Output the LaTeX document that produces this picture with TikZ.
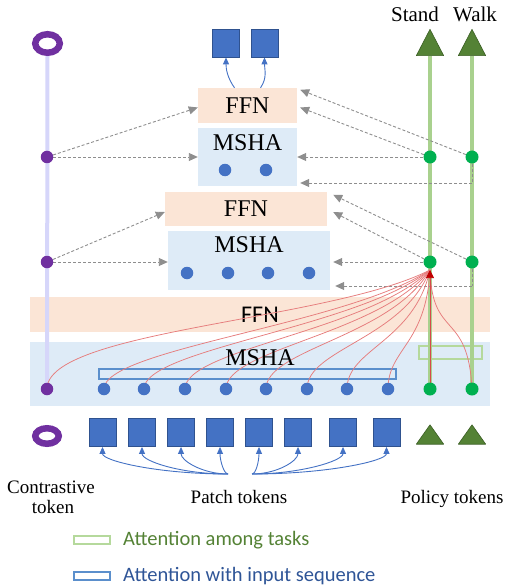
\documentclass[tikz,border=0pt]{standalone}
\usepackage{fontspec}
\setmainfont{Liberation Serif}
\newfontfamily\legendfont{Carlito}
\usetikzlibrary{arrows.meta,calc,shapes.geometric}

\pgfdeclarelayer{bg}
\pgfdeclarelayer{wires}
\pgfsetlayers{bg,wires,main}

\definecolor{ffnfill}{HTML}{FBE5D6}
\definecolor{mshafill}{HTML}{DEEBF7}
\definecolor{tokblue}{HTML}{4472C4}
\definecolor{tokedge}{HTML}{2F528F}
\definecolor{ctrpurple}{HTML}{7030A0}
\definecolor{ctrline}{HTML}{D6D6FA}
\definecolor{polgreen}{HTML}{00B050}
\definecolor{trigreen}{HTML}{548235}
\definecolor{triedge}{HTML}{3B5E24}
\definecolor{taskline}{HTML}{A9D18E}
\definecolor{taskbox}{HTML}{B5D99C}
\definecolor{seqbox}{HTML}{5B8FCC}
\definecolor{attnred}{HTML}{E67C7C}
\definecolor{tipred}{HTML}{C00000}
\definecolor{skipgray}{HTML}{8E8E8E}
\definecolor{legblue}{HTML}{2F5597}

\begin{document}
\begin{tikzpicture}[x=1pt,y=-1pt,
  ffnbox/.style={fill=ffnfill, inner sep=0pt, font=\fontsize{24}{24}\selectfont},
  mshabox/.style={fill=mshafill, inner sep=0pt},
  layertxt/.style={inner sep=0pt, font=\fontsize{24}{24}\selectfont},
  tokdot/.style={circle, fill=tokblue, inner sep=0pt, minimum size=12.5pt},
  ctrdot/.style={circle, fill=ctrpurple, inner sep=0pt, minimum size=12.5pt},
  poldot/.style={circle, fill=polgreen, inner sep=0pt, minimum size=13pt},
  patchsq/.style={rectangle, fill=tokblue, draw=tokedge, line width=0.8pt, inner sep=0pt, minimum width=27pt, minimum height=28pt},
  ctrring/.style={ellipse, draw=ctrpurple, line width=6.5pt, inner sep=0pt},
  trislot/.style={inner sep=0pt, minimum width=27pt, minimum height=#1},
  tri/.style={fill=trigreen, draw=triedge, line width=0.6pt, line join=round},
  ctrlink/.style={draw=ctrline, line width=4pt},
  tasklink/.style={draw=taskline, line width=4.5pt},
  skiparr/.style={draw=skipgray, line width=0.9pt, dash pattern=on 3pt off 2pt, -{Triangle[length=9pt,width=8pt]}},
  skipline/.style={draw=skipgray, line width=0.9pt, dash pattern=on 3pt off 2pt},
  attn/.style={draw=attnred, line width=0.75pt},
  embed/.style={draw=tokblue, line width=0.9pt, -{Triangle[length=7pt,width=6pt]}},
  tokcap/.style={inner sep=0pt, font=\fontsize{19}{20}\selectfont},
  outline/.style={line width=2.2pt, inner sep=0pt, fill=none},
  legtxt/.style={anchor=west, inner sep=0pt, font=\legendfont\fontsize{20.5}{20.5}\selectfont},
]
\useasboundingbox (0,0) rectangle (506,588);

% ---------- layer blocks ----------
\begin{pgfonlayer}{bg}
  \node[ffnbox, minimum width=99pt, minimum height=35pt] (ffnA) at (247.5,105.5) {FFN};
  \node[mshabox, minimum width=99pt, minimum height=58pt] (mshaA) at (247.5,157) {};
  \node[ffnbox, minimum width=162pt, minimum height=34pt] (ffnB) at (246,209) {FFN};
  \node[mshabox, minimum width=162pt, minimum height=59pt] (mshaB) at (249,260.5) {};
  \node[ffnbox, minimum width=460pt, minimum height=35pt, font=\legendfont\fontsize{24}{24}\selectfont] (ffnC) at (260,314.5) {FFN};
  \node[mshabox, minimum width=460pt, minimum height=64pt] (mshaC) at (260,374) {};
  \node[outline, draw=seqbox, minimum width=297pt, minimum height=10pt] (seqAttn) at (247.5,374) {};
  \node[outline, draw=taskbox, minimum width=63pt, minimum height=13pt] (taskAttn) at (450.5,352.5) {};
\end{pgfonlayer}

\node[layertxt] (mshaAtxt) at (247.5,143) {MSHA};
\node[layertxt] (mshaBtxt) at (249,245) {MSHA};
\node[layertxt] (mshaCtxt) at (260,358) {MSHA};

% ---------- tokens inside the layers ----------
\node[ctrdot] (c0) at (47,389) {};
\node[ctrdot] (c1) at (47,157) {};
\node[ctrdot] (c2) at (47,262) {};
\foreach \i/\x in {1/104,2/144,3/185,4/226,5/266,6/307,7/347,8/388}
  \node[tokdot] (t\i) at (\x,389) {};
\node[poldot] (s0) at (430,389) {};
\node[poldot] (w0) at (472,389) {};
\node[poldot] (s1) at (430,157) {};
\node[poldot] (w1) at (472,157) {};
\node[poldot] (s2) at (430,262) {};
\node[poldot] (w2) at (472,262) {};
\node[tokdot] (a1) at (225,170) {};
\node[tokdot] (a2) at (266,170) {};
\foreach \i/\x in {1/187,2/228,3/268,4/309}
  \node[tokdot] (b\i) at (\x,273) {};

% ---------- input and output tokens ----------
\node[ctrring, minimum width=24.5pt, minimum height=18.5pt] (ringTop) at (47.5,43.5) {};
\node[ctrring, minimum width=23.5pt, minimum height=15.5pt] (ringBot) at (47,436) {};
\foreach \i/\x in {1/102.5,2/142,3/181,4/220,5/259,6/298,7/343,8/386.5}
  \node[patchsq] (p\i) at (\x,432.5) {};
\node[patchsq] (o1) at (226,43) {};
\node[patchsq] (o2) at (264.5,43) {};

\node[trislot=26pt] (standTop) at (430,42.5) {};
\node[trislot=26pt] (walkTop) at (472,42.5) {};
\node[trislot=19pt] (standBot) at (430,434.5) {};
\node[trislot=19pt] (walkBot) at (472,434.5) {};
\foreach \t in {standTop,walkTop,standBot,walkBot}
  \filldraw[tri] (\t.south west) -- (\t.north) -- (\t.south east) -- cycle;

% ---------- connectors ----------
\begin{pgfonlayer}{wires}
  \draw[ctrlink] (ringTop.south) -- (c0.center);
  \draw[tasklink] (standTop.south) -- (s0.center);
  \draw[tasklink] (walkTop.south) -- (w0.center);

  % skip connections of the contrastive token
  \draw[skiparr] (c1) -- (c1 -| mshaA.west);
  \draw[skiparr] (c1) -- ($(ffnA.west)+(0,2)$);
  \draw[skiparr] (c2) -- (c2 -| mshaB.west);
  \draw[skiparr] (c2) -- ($(ffnB.west)+(0,3)$);

  % skip connections of the policy tokens
  \draw[skiparr] (s1) -- (s1 -| mshaA.east);
  \draw[skiparr] (s1) -- ($(ffnA.east)+(3,2)$);
  \draw[skiparr] (w1) -- ($(ffnA.north east)+(3,2)$);
  \coordinate (w1drop) at ($(w1.center)+(0,26)$);
  \draw[skipline] (w1) -- (w1drop);
  \draw[skiparr] (w1drop) -- ($(w1drop -| mshaA.east)+(3,0)$);

  \draw[skiparr] (s2) -- ($(s2 -| mshaB.east)+(3,0)$);
  \draw[skiparr] (s2) -- ($(ffnB.east)+(6,3)$);
  \draw[skiparr] (w2) -- ($(ffnB.north east)+(6,3)$);
  \coordinate (w2drop) at ($(w2.center)+(0,24)$);
  \draw[skipline] (w2) -- (w2drop);
  \draw[skiparr] (w2drop) -- ($(w2drop -| mshaB.east)+(5,0)$);

  % attention of the stand token over the whole sequence
  \coordinate (hub) at (430,270);
  \draw[attn] (c0.center) .. controls (47,330) and (330,321) .. (hub);
  \foreach \i/\cx/\cy in {1/346/325,2/357/328,3/369/331,4/380/334,5/391/337,6/403/339,7/414/342,8/426/345}
    \draw[attn] (t\i.center) .. controls ($(t\i.center)+(0,-40)$) and (\cx,\cy) .. (hub);
  \draw[attn] (w0.center) .. controls (468,310) and (432,340) .. (hub);
  \draw[attn, draw=attnred!60!tipred, -{Triangle[length=8pt,width=8pt,color=tipred]}] (s0.center) -- (hub);

  % patch embedding arrows
  \coordinate (pL) at (228,474);
  \coordinate (pR) at (252,474);
  \foreach \i/\c in {1/70,2/48,3/25,4/4}
    \draw[embed] (pL) .. controls ($(pL)+(-\c,0)$) and ($(p\i.south)+(0,14)$) .. (p\i.south);
  \foreach \i/\c in {5/4,6/25,7/48,8/75}
    \draw[embed] (pR) .. controls ($(pR)+(\c,0)$) and ($(p\i.south)+(0,14)$) .. (p\i.south);

  % output arrows
  \draw[embed] ($(ffnA.north)+(-13,0)$) .. controls ($(ffnA.north)+(-20,-10)$) and ($(o1.south)+(0,12)$) .. (o1.south);
  \draw[embed] ($(ffnA.north)+(13,0)$) .. controls ($(ffnA.north)+(20,-10)$) and ($(o2.south)+(0,12)$) .. (o2.south);
\end{pgfonlayer}

% ---------- captions ----------
\node[anchor=base, font=\fontsize{21}{21}\selectfont, inner sep=0pt] (standCap) at (415,22) {Stand};
\node[anchor=base, font=\fontsize{21}{21}\selectfont, inner sep=0pt] (walkCap) at (475,22) {Walk};
\node[tokcap, anchor=base] (ctrCapA) at (51,493) {Contrastive};
\node[tokcap, anchor=base] (ctrCapB) at (53,513) {token};
\node[tokcap, anchor=base] (patchCap) at (239,503) {Patch tokens};
\node[tokcap, anchor=base] (polCap) at (452,503) {Policy tokens};

% ---------- legend ----------
\node[outline, line width=2pt, draw=taskbox, minimum width=36pt, minimum height=8pt] (legTask) at (91.5,540) {};
\node[legtxt, text=trigreen] (legTaskTxt) at (123,540) {Attention among tasks};
\node[outline, line width=2pt, draw=seqbox, minimum width=36pt, minimum height=8pt] (legSeq) at (91.5,576) {};
\node[legtxt, text=legblue] (legSeqTxt) at (123,576) {Attention with input sequence};
\end{tikzpicture}
\end{document}
